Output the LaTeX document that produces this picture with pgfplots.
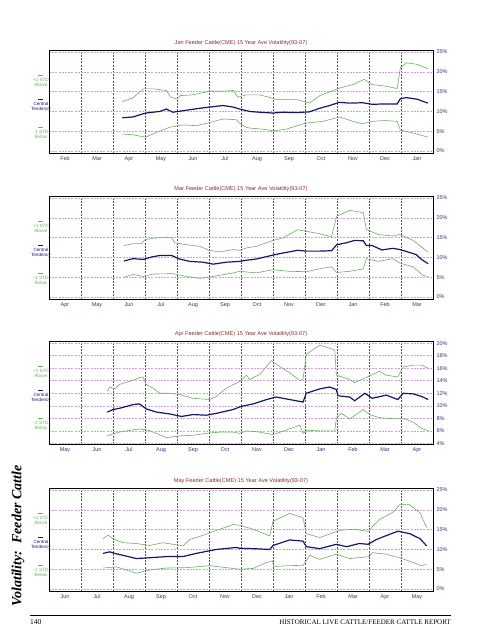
\documentclass[border=0pt]{standalone}
\usepackage{pgfplots}
\pgfplotsset{compat=1.18}
\usepackage{fontspec}
\setmainfont{Liberation Sans}
\newfontfamily\seriffont{Liberation Serif}
\definecolor{navy}{RGB}{25,20,105}
\definecolor{stdgreen}{RGB}{105,175,95}
\definecolor{titlered}{RGB}{140,45,45}
\definecolor{ticknavy}{RGB}{50,55,120}
\definecolor{hgrid}{RGB}{205,160,210}
\definecolor{vgrid}{RGB}{125,60,135}
\pgfplotsset{
 panel/.style={scale only axis, width=384pt, height=102.5pt, anchor=south west,
  xmin=0, xmax=12, clip=false,
  axis line style={black, line width=0.9pt},
  xtick={1,...,11}, xticklabels={},
  xmajorgrids, ymajorgrids,
  x grid style={vgrid, dash pattern=on 2pt off 1.2pt, line width=0.55pt},
  y grid style={hgrid, dash pattern=on 2pt off 1.2pt, line width=0.6pt},
  major tick length=0pt,
  yticklabel pos=right,
  tick label style={font=\fontsize{5.5}{6}\selectfont, text=ticknavy},
  extra x ticks={0.5,1.5,...,11.5},
  extra x tick style={grid=none, major tick length=0pt},
  title style={font=\fontsize{5.6}{6}\selectfont, text=titlered, at={(0.5,1)}, anchor=south, yshift=-4.5pt},
 },
 pct25/.style={ymin=-0.5, ymax=25.4, ytick={0,5,...,25}, yticklabels={0\%,5\%,10\%,15\%,20\%,25\%}},
 std/.style={stdgreen, line width=0.6pt, mark=none},
 ct/.style={navy, line width=1.2pt, mark=none},
}
\newcommand{\panellegend}{%
 \node[font=\fontsize{4.6}{5}\selectfont, text=stdgreen, align=center] at (rel axis cs:-0.021,0.707) {{\color{stdgreen}\rule[0.3ex]{5pt}{0.4pt}}\\+1 STD\\Above};
 \node[font=\fontsize{4.6}{5}\selectfont, text=navy, align=center] at (rel axis cs:-0.021,0.463) {{\color{navy}\rule[0.3ex]{5pt}{0.8pt}}\\Central\\Tendency};
 \node[font=\fontsize{4.6}{5}\selectfont, text=stdgreen, align=center] at (rel axis cs:-0.021,0.20) {{\color{stdgreen}\rule[0.3ex]{5pt}{0.4pt}}\\-1 STD\\Below};
}
\begin{document}
\begin{tikzpicture}
\path[use as bounding box] (0pt,0pt) rectangle (495pt,640pt);

% Panel 1: Jan
\begin{axis}[panel, pct25, at={(49pt,487pt)},
 title={Jan Feeder Cattle(CME) 15 Year Ave Volatility(93-07)},
 extra x tick labels={Feb,Mar,Apr,May,Jun,Jul,Aug,Sep,Oct,Nov,Dec,Jan}]
\addplot[std] coordinates {(2.29,12.5)(2.62,13.4)(2.94,15.7)(3.27,15.7)(3.67,15.3)(3.8,13.6)(4.0,13.1)(4.1,14.0)(4.5,14.2)(5.02,15.1)(5.44,15.1)(5.76,15.3)(5.9,13.6)(6.17,14.2)(6.58,14.2)(6.95,13.4)(7.1,13.0)(7.73,13.0)(8.14,12.1)(8.46,14.0)(9.08,15.9)(9.5,16.8)(9.85,18.1)(10.1,16.8)(10.5,16.4)(10.88,15.8)(10.98,21.0)(11.17,22.3)(11.5,21.9)(11.84,20.8)};
\addplot[ct] coordinates {(2.29,8.4)(2.62,8.6)(3.02,9.6)(3.46,10.0)(3.67,10.6)(3.87,9.8)(4.29,10.3)(4.71,10.8)(5.02,11.1)(5.44,11.5)(5.76,11.1)(5.96,10.6)(6.27,10.0)(6.58,9.8)(7.0,9.6)(7.3,9.8)(7.73,9.7)(8.14,9.9)(8.46,10.8)(8.77,11.5)(9.08,12.3)(9.4,12.1)(9.8,12.2)(10.1,11.8)(10.5,11.9)(10.88,11.9)(10.98,13.2)(11.17,13.5)(11.5,13.1)(11.84,12.1)};
\addplot[std] coordinates {(2.29,4.3)(2.62,4.1)(3.02,3.5)(3.35,4.7)(3.77,6.0)(4.19,6.6)(4.6,6.4)(5.02,7.2)(5.44,8.1)(5.86,7.9)(5.96,7.0)(6.17,6.0)(6.27,5.8)(6.7,5.5)(7.0,5.1)(7.4,5.5)(8.0,7.0)(8.56,7.5)(9.08,8.6)(9.5,7.5)(9.8,6.9)(10.1,7.5)(10.5,7.7)(10.88,7.5)(10.98,5.3)(11.4,4.5)(11.84,3.5)};
\panellegend
\end{axis}

% Panel 2: Mar
\begin{axis}[panel, pct25, at={(49pt,341pt)},
 title={Mar Feeder Cattle(CME) 15 Year Ave Volatility(93-07)},
 extra x tick labels={Apr,May,Jun,Jul,Aug,Sep,Oct,Nov,Dec,Jan,Feb,Mar}]
\addplot[std] coordinates {(2.34,13.0)(2.63,13.5)(2.89,13.5)(3.0,14.5)(3.3,14.9)(3.83,15.1)(3.93,13.7)(4.3,13.2)(4.72,12.8)(5.0,11.8)(5.34,11.4)(5.76,12.0)(5.96,11.8)(6.17,12.4)(6.48,12.8)(7.0,14.3)(7.3,14.9)(7.77,17.0)(8.04,16.6)(8.46,16.0)(8.83,15.2)(8.99,20.4)(9.4,21.9)(9.82,21.3)(9.92,17.0)(10.3,15.8)(10.75,15.4)(10.96,15.8)(11.38,14.3)(11.85,11.3)};
\addplot[ct] coordinates {(2.34,9.1)(2.63,9.7)(2.94,9.5)(3.2,10.1)(3.46,10.5)(3.83,10.5)(4.08,9.6)(4.4,9.0)(4.82,8.8)(5.13,8.3)(5.54,8.8)(5.96,9.0)(6.17,9.3)(6.48,9.6)(7.0,10.6)(7.3,11.1)(7.77,11.8)(8.04,11.6)(8.46,11.6)(8.83,11.7)(8.99,13.2)(9.29,13.7)(9.55,14.3)(9.82,14.2)(9.92,13.0)(10.1,13.0)(10.4,11.9)(10.75,12.3)(10.96,12.0)(11.17,11.5)(11.48,10.7)(11.64,9.5)(11.85,8.4)};
\addplot[std] coordinates {(2.34,5.0)(2.63,5.7)(2.94,5.2)(3.26,5.8)(3.88,5.9)(4.3,5.2)(4.72,4.7)(5.13,5.2)(5.76,6.1)(5.96,6.5)(6.48,6.1)(7.0,6.9)(7.5,6.5)(8.04,6.4)(8.56,7.3)(8.83,7.6)(8.99,6.2)(9.4,6.5)(9.82,7.1)(9.92,9.7)(10.3,9.0)(10.75,9.7)(10.96,8.6)(11.38,7.6)(11.7,5.4)(11.85,5.2)};
\panellegend
\end{axis}

% Panel 3: Apr
\begin{axis}[panel, at={(49pt,196pt)}, ymin=3.9, ymax=20.27, ytick={4,6,...,20},
 yticklabels={4\%,6\%,8\%,10\%,12\%,14\%,16\%,18\%,20\%},
 title={Apr Feeder Cattle(CME) 15 Year Ave Volatility(93-07)},
 extra x tick labels={May,Jun,Jul,Aug,Sep,Oct,Nov,Dec,Jan,Feb,Mar,Apr}]
\addplot[std] coordinates {(1.82,12.3)(1.9,13.0)(2.06,12.7)(2.2,13.4)(2.52,13.9)(2.83,14.5)(2.94,14.6)(3.04,13.4)(3.26,12.8)(3.46,12.0)(3.77,12.0)(4.08,11.8)(4.5,11.2)(5.02,11.0)(5.23,11.5)(5.54,12.8)(5.96,13.9)(6.17,14.9)(6.27,14.2)(6.58,15.0)(6.8,16.3)(6.95,17.2)(7.2,16.3)(7.6,15.0)(7.84,14.0)(7.94,14.3)(8.04,18.2)(8.46,19.7)(8.77,19.2)(8.93,18.9)(8.98,14.9)(9.4,14.2)(9.55,13.7)(9.82,14.3)(10.1,15.0)(10.33,15.5)(10.54,14.9)(10.9,14.6)(11.07,16.2)(11.38,16.5)(11.64,16.5)(11.85,16.0)};
\addplot[ct] coordinates {(1.82,9.0)(2.0,9.4)(2.2,9.6)(2.42,9.9)(2.63,10.2)(2.83,10.3)(3.04,9.5)(3.35,9.0)(3.77,8.7)(4.14,8.3)(4.5,8.6)(4.92,8.5)(5.23,8.8)(5.75,9.4)(6.0,9.9)(6.38,10.3)(6.8,11.0)(7.1,11.4)(7.52,11.0)(7.94,10.6)(8.04,12.0)(8.46,12.7)(8.77,13.0)(8.98,12.6)(9.03,11.6)(9.4,11.4)(9.55,10.8)(9.87,12.0)(10.1,11.2)(10.54,11.7)(10.9,11.0)(11.07,12.0)(11.38,11.9)(11.64,11.5)(11.85,11.0)};
\addplot[std] coordinates {(1.82,5.2)(2.0,5.5)(2.2,5.8)(2.42,6.0)(2.83,6.3)(3.1,6.1)(3.35,5.6)(3.67,4.9)(4.08,5.2)(4.5,5.3)(4.92,5.6)(5.34,5.8)(5.76,5.8)(5.96,5.6)(6.17,6.0)(6.58,5.8)(7.0,5.4)(7.4,6.1)(7.84,6.9)(7.94,5.6)(8.04,6.1)(8.46,6.0)(8.93,6.0)(8.98,8.0)(9.13,8.8)(9.4,7.9)(9.82,9.4)(10.02,8.6)(10.33,8.1)(10.86,7.9)(11.07,8.0)(11.38,7.4)(11.64,6.4)(11.85,6.0)};
\panellegend
\end{axis}

% Panel 4: May
\begin{axis}[panel, pct25, at={(49pt,49pt)},
 title={May Feeder Cattle(CME) 15 Year Ave Volatility(93-07)},
 extra x tick labels={Jun,Jul,Aug,Sep,Oct,Nov,Dec,Jan,Feb,Mar,Apr,May}]
\addplot[std] coordinates {(1.69,12.7)(1.85,13.6)(2.05,12.5)(2.32,11.7)(2.73,11.5)(3.15,11.0)(3.56,11.7)(4.19,10.9)(4.4,12.5)(4.9,13.8)(5.23,14.8)(5.76,16.3)(5.96,16.1)(6.38,15.1)(6.9,13.4)(7.0,17.1)(7.52,19.1)(7.94,18.0)(8.04,14.0)(8.46,13.0)(9.08,14.8)(9.5,15.1)(9.97,14.6)(10.33,17.6)(10.75,19.4)(10.96,21.3)(11.27,21.3)(11.6,19.2)(11.8,15.5)};
\addplot[ct] coordinates {(1.69,9.0)(1.9,9.4)(2.05,9.0)(2.32,8.5)(2.73,7.7)(3.15,7.9)(3.67,8.2)(4.19,8.2)(4.6,9.0)(5.23,10.0)(5.86,10.5)(5.96,10.3)(6.38,10.2)(6.9,10.0)(7.0,11.0)(7.52,12.4)(7.94,12.1)(8.04,10.7)(8.46,10.2)(8.98,11.3)(9.3,10.7)(9.7,11.5)(9.97,11.3)(10.23,12.5)(10.54,13.5)(10.9,14.6)(11.27,14.0)(11.6,12.7)(11.8,10.9)};
\addplot[std] coordinates {(1.69,5.3)(2.1,5.6)(2.43,4.8)(2.73,4.0)(3.15,4.8)(3.67,5.3)(4.29,5.4)(5.02,5.9)(5.76,5.2)(5.96,5.0)(6.38,5.2)(6.8,6.7)(6.98,7.1)(7.02,5.7)(7.52,5.9)(7.94,6.0)(8.15,8.5)(8.46,7.5)(8.98,8.8)(9.4,7.7)(10.02,8.2)(10.1,9.2)(10.54,8.8)(10.96,7.9)(11.38,6.7)(11.64,5.9)(11.8,6.3)};
\panellegend
\end{axis}

% page decorations
\node[rotate=90, font=\seriffont\bfseries\itshape\fontsize{14}{16}\selectfont] at (18pt,104pt) {Volatility:\ \ Feeder Cattle};
\draw[line width=0.8pt] (30pt,25pt) -- (451pt,25pt);
\node[anchor=west, font=\seriffont\fontsize{7.5}{8}\selectfont, inner sep=0pt] at (30pt,18pt) {140};
\node[anchor=east, font=\seriffont\fontsize{7}{8}\selectfont, inner sep=0pt] at (451pt,18pt) {HISTORICAL LIVE CATTLE/FEEDER CATTLE REPORT};
\end{tikzpicture}
\end{document}
